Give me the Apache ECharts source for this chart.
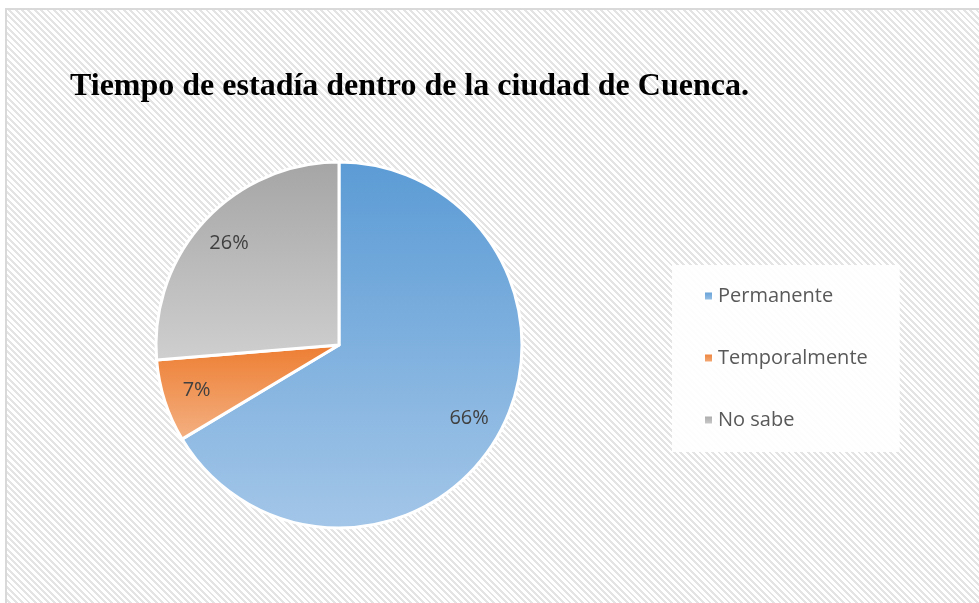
<!DOCTYPE html>
<html>
<head>
<meta charset="utf-8">
<script src="https://cdn.jsdelivr.net/npm/echarts@6/dist/echarts.min.js"></script>
<style>
  html,body{margin:0;padding:0;background:#fff;overflow:hidden;}
  #frame{position:absolute;left:5px;top:8px;width:1000px;height:620px;
    border-left:2px solid #d9d9d9;border-top:2px solid #d9d9d9;
    background:repeating-linear-gradient(45deg,#ffffff 0px,#ffffff 2.5px,#e4e4e4 2.5px,#e4e4e4 4.5px);}
  #chart{position:absolute;left:0;top:0;width:979px;height:603px;}
</style>
</head>
<body>
<div id="frame"></div>
<div id="chart"></div>
<script>
// datos del gráfico
const categories = ['Permanente', 'Temporalmente', 'No sabe']
const values = [66.4, 7.3, 26.3]
const topColors = ['#5b9bd5', '#ed7d31', '#a5a5a5']
const bottomColors = ['#a3c6e8', '#f4b183', '#cfcfcf']

const myChart = echarts.init(document.getElementById('chart'))

const pieData = categories.map((name, i) => ({
    name: name,
    value: values[i],
    itemStyle: {
        color: new echarts.graphic.LinearGradient(0, 0, 0, 1, [
            {offset: 0, color: topColors[i]},
            {offset: 1, color: bottomColors[i]}
        ])
    }
}))
// serie transparente solo para ubicar las etiquetas más afuera (como Excel)
const labelData = categories.map((name, i) => ({name: name, value: values[i]}))

const option = {
    backgroundColor: 'transparent',
    animation: false,
    title: {
        text: 'Tiempo de estadía dentro de la ciudad de Cuenca.',
        left: 70,
        top: 71,
        padding: 0,
        textStyle: {
            fontFamily: 'Liberation Serif',
            fontWeight: 'bold',
            fontSize: 32,
            color: '#000'
        }
    },
    legend: {
        orient: 'vertical',
        left: 672,
        top: 265,
        padding: [21, 32, 22, 31],
        itemGap: 42,
        itemWidth: 9,
        itemHeight: 9,
        icon: 'rect',
        backgroundColor: 'rgba(255,255,255,0.92)',
        data: categories,
        textStyle: {fontFamily: 'Open Sans', fontSize: 20, lineHeight: 20, color: '#595959'}
    },
    color: topColors,
    series: [
        {
            type: 'pie',
            center: [339, 345],
            radius: [0, 183],
            startAngle: 90,
            clockwise: true,
            label: {show: false},
            labelLine: {show: false},
            itemStyle: {borderColor: '#fff', borderWidth: 3},
            emphasis: {disabled: true},
            data: pieData
        },
        {
            type: 'pie',
            center: [339, 345],
            radius: [110, 183],
            startAngle: 90,
            clockwise: true,
            silent: true,
            legendHoverLink: false,
            itemStyle: {color: 'transparent'},
            label: {
                show: true,
                position: 'inside',
                formatter: p => Math.round(p.value) + '%',
                fontFamily: 'Open Sans',
                fontSize: 20,
                color: '#404040'
            },
            labelLine: {show: false},
            data: labelData
        }
    ]
}
myChart.setOption(option)
</script>
</body>
</html>
